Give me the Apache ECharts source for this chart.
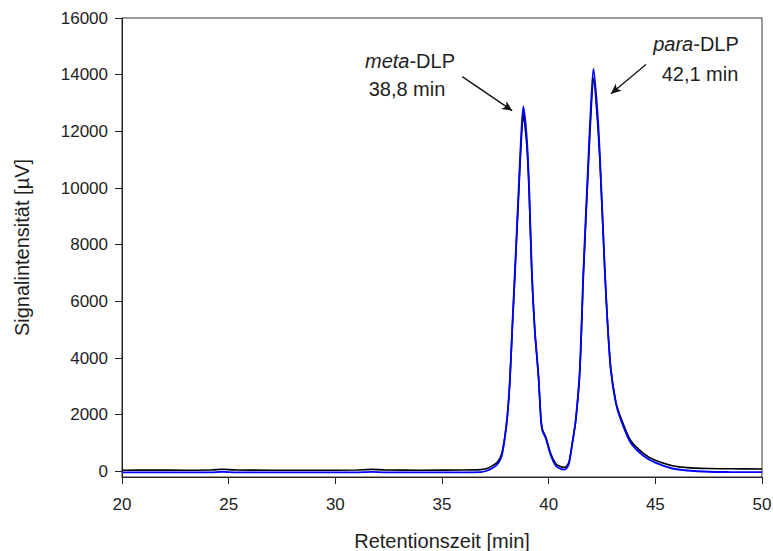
<!DOCTYPE html>
<html>
<head>
<meta charset="utf-8">
<script src="https://cdn.jsdelivr.net/npm/echarts@6/dist/echarts.min.js"></script>
<style>html,body{margin:0;padding:0;background:#fff}#c{width:773px;height:551px}</style>
</head>
<body>
<div id="c"></div>
<script>
// Retention time [min]
const time = [20, 21.5, 23, 24.2, 24.7, 25.3, 27, 29, 31, 31.7, 32.3, 34, 36, 36.8, 37.1, 37.37, 37.6, 37.8, 37.95, 38.07, 38.18, 38.3, 38.42, 38.59, 38.7, 38.81, 38.98, 39.09, 39.21, 39.35, 39.52, 39.63, 39.7, 39.87, 40.1, 40.34, 40.55, 40.73, 40.85, 40.96, 41.11, 41.27, 41.46, 41.63, 41.86, 41.97, 42.1, 42.28, 42.41, 42.63, 42.76, 42.91, 43.15, 43.38, 43.85, 44.47, 45.02, 45.8, 46.5, 47.5, 48.5, 50];
// Blue trace [µV]
const blueSignal = [-40, -35, -40, -35, -15, -35, -40, -40, -40, -20, -35, -40, -40, -30, 20, 120, 250, 550, 1200, 2000, 3200, 5200, 7100, 9900, 11700, 12880, 11700, 9900, 7100, 5000, 3400, 1900, 1450, 1150, 560, 190, 90, 60, 120, 296, 1000, 1825, 3590, 7120, 10995, 12760, 14210, 12760, 10995, 7120, 5200, 3590, 2400, 1825, 1000, 530, 296, 100, 30, -15, -25, -30];
// Black trace [µV]
const blackSignal = [40, 45, 40, 45, 75, 50, 40, 40, 45, 70, 50, 40, 45, 60, 100, 200, 330, 620, 1250, 2000, 3150, 5100, 6950, 9700, 11450, 12590, 11450, 9700, 6950, 4950, 3350, 1950, 1500, 1200, 620, 260, 170, 140, 190, 350, 1000, 1800, 3500, 6950, 10750, 12450, 13880, 12450, 10800, 7100, 5250, 3650, 2450, 1900, 1080, 620, 380, 200, 130, 100, 90, 80];
// Axis ticks
const xTicks = [20, 25, 30, 35, 40, 45, 50];
const yTicks = [0, 2000, 4000, 6000, 8000, 10000, 12000, 14000, 16000];
// Peak annotations: arrow start/end in data coordinates
const arrowMeta = [[35.95, 13930], [38.29, 12730]];
const arrowPara = [[44.56, 14355], [42.92, 13330]];

const chart = echarts.init(document.getElementById('c'), null, {renderer: 'svg'});
const pair = (ys) => time.map((t, i) => [t, ys[i]]);
const txt = '#1e1e1e';
const font = 'Liberation Sans, Arial, sans-serif';

chart.setOption({
  animation: false,
  backgroundColor: '#fff',
  grid: {left: 122, right: 11, top: 18, bottom: 74, containLabel: false, outerBoundsMode: 'none', show: true, borderColor: '#333', borderWidth: 1},
  xAxis: {
    type: 'value', min: 20, max: 50, interval: 5,
    axisLine: {show: true, onZero: false, lineStyle: {color: '#222', width: 1}},
    axisTick: {show: true, inside: false, length: 7, lineStyle: {color: '#222'}},
    axisLabel: {color: txt, fontSize: 17, fontFamily: font, margin: 19},
    splitLine: {show: false},
    name: 'Retentionszeit [min]', nameLocation: 'middle', nameGap: 54,
    nameTextStyle: {color: txt, fontSize: 20, fontFamily: font}
  },
  yAxis: {
    type: 'value', min: -200, max: 16000,
    axisLine: {show: true, onZero: false, lineStyle: {color: '#222', width: 1}},
    axisTick: {show: true, inside: false, length: 7, lineStyle: {color: '#222'}, customValues: yTicks},
    axisLabel: {color: txt, fontSize: 17, fontFamily: font, margin: 14, customValues: yTicks, formatter: (v) => String(v)},
    splitLine: {show: false},
    name: 'Signalintensität [µV]', nameLocation: 'middle', nameGap: 90,
    nameTextStyle: {color: txt, fontSize: 20, fontFamily: font}
  },
  series: [
    {
      type: 'line', data: pair(blackSignal), showSymbol: false, smooth: 0.25,
      lineStyle: {color: '#000', width: 1.6}, z: 2,
      markLine: {
        silent: true, symbol: ['none', 'arrow'], symbolSize: [7, 10],
        lineStyle: {color: '#111', width: 1.3, type: 'solid'},
        label: {show: false},
        data: [
          [{coord: arrowMeta[0]}, {coord: arrowMeta[1]}],
          [{coord: arrowPara[0]}, {coord: arrowPara[1]}]
        ]
      }
    },
    {
      type: 'line', data: pair(blueSignal), showSymbol: false, smooth: 0.25,
      lineStyle: {color: '#0000ff', width: 1.8}, z: 3
    }
  ],
  graphic: [
    {type: 'text', x: 410, y: 61, style: {text: '{i|meta}-DLP', align: 'center', verticalAlign: 'middle', fill: txt, font: '20px ' + font, rich: {i: {fontStyle: 'italic', fontSize: 20, fontFamily: font, fill: txt}}}},
    {type: 'text', x: 407, y: 89, style: {text: '38,8 min', align: 'center', verticalAlign: 'middle', fill: txt, font: '20px ' + font}},
    {type: 'text', x: 696, y: 44, style: {text: '{i|para}-DLP', align: 'center', verticalAlign: 'middle', fill: txt, font: '20px ' + font, rich: {i: {fontStyle: 'italic', fontSize: 20, fontFamily: font, fill: txt}}}},
    {type: 'text', x: 700, y: 74, style: {text: '42,1 min', align: 'center', verticalAlign: 'middle', fill: txt, font: '20px ' + font}}
  ]
});
</script>
</body>
</html>
